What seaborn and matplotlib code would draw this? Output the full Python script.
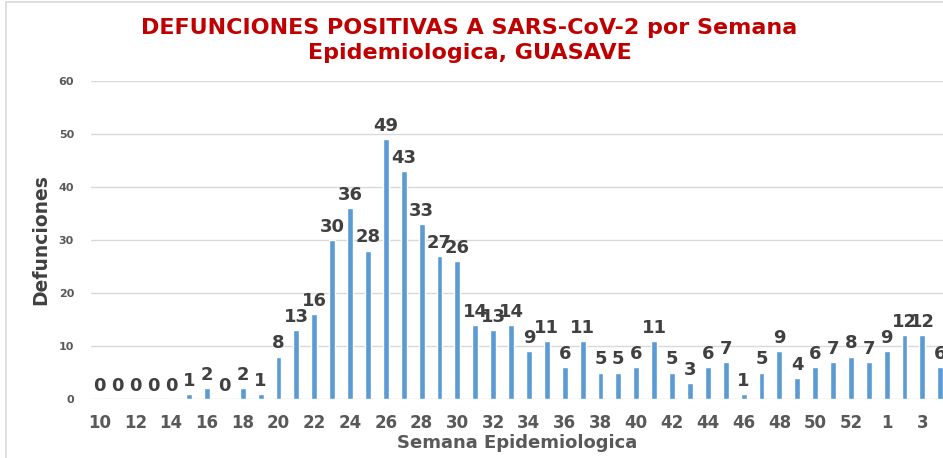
import matplotlib
matplotlib.use("Agg")
import matplotlib.pyplot as plt
import seaborn as sns
import pandas as pd

# Epidemiological weeks (2020 weeks 10-53, then 2021 weeks 1-4)
semanas = [str(w) for w in range(10, 54)] + ["1", "2", "3", "4"]
defunciones = [0, 0, 0, 0, 0, 1, 2, 0, 2, 1,
               8, 13, 16, 30, 36, 28, 49, 43, 33, 27,
               26, 14, 13, 14, 9, 11, 6, 11, 5, 5,
               6, 11, 5, 3, 6, 7, 1, 5, 9, 4,
               6, 7, 8, 7, 9, 12, 12, 6]
titulo = "DEFUNCIONES POSITIVAS A SARS-CoV-2 por Semana\nEpidemiologica, GUASAVE"
y_ticks = [0, 10, 20, 30, 40, 50, 60]

df = pd.DataFrame({"semana": semanas, "defunciones": defunciones})

sns.set_theme(style="white")
plt.rcParams["font.family"] = ["DejaVu Sans"]

fig = plt.figure(figsize=(9.43, 4.58), dpi=100)
ax = fig.add_axes([0.0962, 0.1288, 0.9038, 0.6943])

sns.barplot(data=df, x="semana", y="defunciones", order=semanas,
            color="#5B9BD5", saturation=1, width=0.33, ax=ax)

ax.set_ylim(0, 60)
ax.set_xlim(-0.5, 47.15)
ax.set_yticks(y_ticks)
ax.set_yticklabels([str(v) for v in y_ticks], fontsize=8, fontweight="bold",
                   color="#595959")
ax.set_xticks(range(0, len(semanas), 2))
ax.set_xticklabels(semanas[::2], fontsize=12, fontweight="bold",
                   color="#595959")
ax.tick_params(axis="both", length=0)
ax.tick_params(axis="x", pad=11)
ax.tick_params(axis="y", pad=12)

ax.grid(axis="y", color="#D9D9D9", linewidth=1)
ax.set_axisbelow(True)
for s in ["top", "right", "left", "bottom"]:
    ax.spines[s].set_visible(False)

for cont in ax.containers:
    ax.bar_label(cont, labels=[str(v) for v in defunciones], padding=3,
                 fontsize=13, fontweight="bold", color="#404040")

ax.set_xlabel("Semana Epidemiologica", fontsize=13, fontweight="bold",
              color="#595959", labelpad=1)
ax.set_ylabel("Defunciones", fontsize=13.5, color="#404040",
              fontweight="semibold")
ax.yaxis.set_label_coords(-0.047, 0.5)

fig.text(0.498, 0.912, titulo, ha="center", va="center", fontsize=16,
         fontweight="bold", color="#C00000", linespacing=1.3)

# light chart-area frame on the left and top
fig.add_artist(plt.Line2D([0.006, 0.006], [0.0, 0.995], color="#D9D9D9",
                          linewidth=1.2, transform=fig.transFigure))
fig.add_artist(plt.Line2D([0.006, 1.0], [0.995, 0.995], color="#D9D9D9",
                          linewidth=1.2, transform=fig.transFigure))

fig.savefig("out.png", dpi=100, facecolor="white")
